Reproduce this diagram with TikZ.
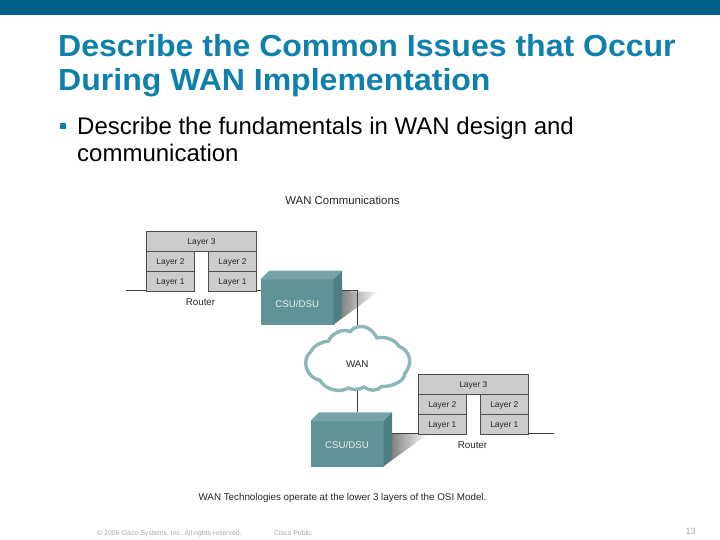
\documentclass[tikz,border=0pt]{standalone}
\usepackage{fontspec}
\setmainfont{Liberation Sans}
\newfontfamily\titlefont[FakeStretch=1.05]{Liberation Sans}
\usetikzlibrary{positioning,calc}
\definecolor{barblue}{HTML}{00608A}
\definecolor{titleblue}{HTML}{0F80AC}
\definecolor{csufront}{HTML}{5F9395}
\definecolor{csutop}{HTML}{76A3A5}
\definecolor{csuside}{HTML}{4E8082}
\definecolor{cloudline}{HTML}{8DB7B7}
\definecolor{layergray}{HTML}{CCCCCC}
\definecolor{footgray}{HTML}{A8A8A8}
\tikzset{
 layer/.style={draw=black!70,line width=0.9pt,fill=layergray,inner sep=0pt,outer sep=0pt,
  minimum height=20pt,text height=6pt,text depth=0pt,font=\fontsize{8.4}{10}\selectfont,text=black!85},
 wide/.style={layer,minimum width=110pt},
 half/.style={layer,minimum width=48pt},
 csubox/.style={fill=csufront,inner sep=0pt,outer sep=0pt,minimum width=73pt,minimum height=45.5pt,
  text height=10pt,text depth=0pt,text=white!92!black,font=\fontsize{9.7}{11}\selectfont},
 link/.style={draw=black!75,line width=1.1pt},
 caption/.style={inner sep=0pt,text=black!85,font=\fontsize{9.8}{11}\selectfont},
 foot/.style={inner sep=0pt,anchor=base west,text=footgray,font=\fontsize{6.9}{8}\selectfont},
 titletext/.style={inner sep=0pt,anchor=base west,text=titleblue,font=\fontsize{30.5}{34}\selectfont\titlefont\bfseries},
 bodytext/.style={inner sep=0pt,anchor=base west,font=\fontsize{24}{27}\selectfont}
}
\begin{document}
\begin{tikzpicture}[x=1pt,y=-1pt,node distance=0pt]
 \useasboundingbox (0,0) rectangle (720,540);
 \fill[white] (0,0) rectangle (720,540);
 \fill[barblue] (0,0) rectangle (720,15);

 % heading
 \node[titletext] (title1) at (58,57) {Describe the Common Issues that Occur};
 \node[titletext] (title2) at (58,91) {During WAN Implementation};
 \node[fill=titleblue,inner sep=0pt,minimum size=6pt] (bullet) at (63,126.5) {};
 \node[bodytext] (body1) at (77,135) {Describe the fundamentals in WAN design and};
 \node[bodytext] (body2) at (77,162) {communication};

 \node[caption,font=\fontsize{11.4}{13}\selectfont] (heading) at (342.5,200) {WAN Communications};

 % shadows
 \shade[left color=black!60,middle color=black!20,right color=white] (341,291) -- (378,292) -- (333,325) -- (333,316) -- cycle;
 \shade[left color=black!60,middle color=black!20,right color=white] (391,433) -- (428,434) -- (384,466) -- (384,457) -- cycle;

 % upper router
 \node[wide,anchor=north west] (layer3a) at (146.5,231.7) {Layer 3};
 \node[half,below=of layer3a.south west,anchor=north west] (layer2a) {Layer 2};
 \node[half,below=of layer2a] (layer1a) {Layer 1};
 \node[half,below=of layer3a.south east,anchor=north east] (layer2b) {Layer 2};
 \node[half,below=of layer2b] (layer1b) {Layer 1};
 \node[caption] (routera) at (200.5,302) {Router};

 % lower router
 \node[wide,anchor=north west] (layer3c) at (418.3,374.3) {Layer 3};
 \node[half,below=of layer3c.south west,anchor=north west] (layer2c) {Layer 2};
 \node[half,below=of layer2c] (layer1c) {Layer 1};
 \node[half,below=of layer3c.south east,anchor=north east] (layer2d) {Layer 2};
 \node[half,below=of layer2d] (layer1d) {Layer 1};
 \node[caption] (routerb) at (472.5,445.5) {Router};

 % lines
 \coordinate (enda) at (126,290.7);
 \coordinate (endb) at (554,433.4);
 \coordinate (corner) at (357.5,290.7);
 \coordinate (backa) at (341.7,290.7);
 \coordinate (backb) at (391.7,433.4);
 \coordinate (wantop) at (357.5,330);
 \coordinate (wanbot) at (357.5,388);
 \coordinate (csutopb) at (357.5,412.4);
 \draw[link] (enda) -- (enda-|layer1a.west);
 \draw[link] (layer3a.east|-enda) -- (260.7,290.7);
 \draw[link] (backa) -- (corner) -- (wantop);
 \draw[link] (wanbot) -- (csutopb);
 \draw[link] (backb) -- (layer3c.west|-endb);
 \draw[link] (layer3c.east|-endb) -- (endb);

 % CSU/DSU boxes
 \node[csubox,anchor=north west] (csua) at (260.7,279.3) {CSU/DSU};
 \fill[csutop] (csua.north west) -- ++(8.5,-8.6) -- ++(73,0) -- ++(-8.5,8.6) -- cycle;
 \fill[csuside] (csua.north east) -- ++(8.5,-8.6) -- ++(0,45.5) -- ++(-8.5,8.6) -- cycle;
 \node[csubox,anchor=north west] (csub) at (310.5,421) {CSU/DSU};
 \fill[csutop] (csub.north west) -- ++(8.5,-8.6) -- ++(73,0) -- ++(-8.5,8.6) -- cycle;
 \fill[csuside] (csub.north east) -- ++(8.5,-8.6) -- ++(0,45.5) -- ++(-8.5,8.6) -- cycle;

 % cloud
 \begin{scope}[shift={(295,318)},x=0.3333pt,y=-0.3333pt]
  \draw[draw=cloudline,line width=3.4pt,fill=white,line join=round]
   (165,42) .. controls (178,20) and (225,14) .. (245,60)
   .. controls (270,54) and (300,64) .. (312,85)
   .. controls (342,95) and (358,135) .. (328,168)
   .. controls (332,185) and (295,208) .. (260,205)
   .. controls (248,220) and (222,220) .. (207,207)
   .. controls (195,216) and (172,216) .. (160,210)
   .. controls (135,226) and (90,215) .. (75,187)
   .. controls (32,178) and (18,125) .. (48,100)
   .. controls (55,84) and (80,70) .. (100,70)
   .. controls (108,48) and (145,28) .. cycle;
 \end{scope}
 \node[caption] (wan) at (357.3,364) {WAN};

 % bottom
 \node[caption] (note) at (342.5,497.5) {WAN Technologies operate at the lower 3 layers of the OSI Model.};
 \node[foot] (copy) at (97,535) {© 2006 Cisco Systems, Inc. All rights reserved.};
 \node[foot] (public) at (274,535) {Cisco Public};
 \node[inner sep=0pt,text=footgray,font=\fontsize{9}{11}\selectfont] (page) at (690.5,531.5) {13};
\end{tikzpicture}
\end{document}
